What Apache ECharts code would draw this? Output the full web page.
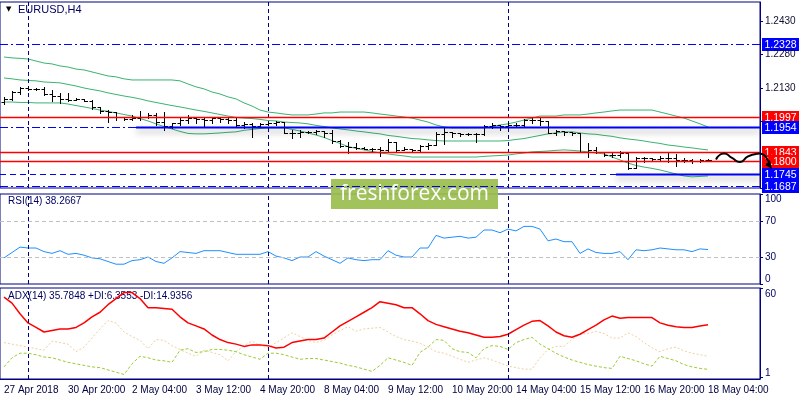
<!DOCTYPE html>
<html>
<head>
<meta charset="utf-8">
<script src="https://cdn.jsdelivr.net/npm/echarts@6/dist/echarts.min.js"></script>
<style>
html, body { margin: 0; padding: 0; background: #fff; }
#chart { width: 800px; height: 400px; }
</style>
</head>
<body>
<div id="chart"></div>
<script>
var FONT = '"Liberation Sans", Arial, sans-serif';
var NAVY = '#000080';

// time axis: one label every 8 H4 bars, starting at bar 0
var tickLabels = ['27 Apr 2018', '30 Apr 20:00', '2 May 04:00', '3 May 12:00', '4 May 20:00', '8 May 04:00',
	'9 May 12:00', '10 May 20:00', '14 May 04:00', '15 May 12:00', '16 May 20:00', '18 May 04:00'];
var labelStep = 8;
var slotCount = 95;           // 89 bars + empty space on the right
var weekSeparators = [3, 33, 63];

// price levels drawn on the chart
var levelValues = [1.2328, 1.1997, 1.1954, 1.1843, 1.1800, 1.1745, 1.1687];
var levelColors = ['#0000ff', '#ff0000', '#0000ff', '#ff0000', '#ff0000', '#0000ff', '#0000ff'];
var levelKinds = ['dashdot', 'solid', 'dashdot', 'solid', 'solid', 'dashed', 'dashdot'];
var levelSegmentStart = [null, null, 17, null, null, 77, null];

// EURUSD H4 bars
var open = [1.2066, 1.2080, 1.2111, 1.2129, 1.2125, 1.2125, 1.2102, 1.2093, 1.2080, 1.2075,
	1.2080, 1.2071, 1.2044, 1.2026, 1.2021, 1.1999, 1.1990, 1.1994, 1.1999, 1.2008,
	1.1976, 1.1959, 1.1972, 1.1985, 1.1994, 1.1990, 1.1985, 1.1994, 1.1990, 1.1985,
	1.1963, 1.1968, 1.1959, 1.1968, 1.1972, 1.1976, 1.1927, 1.1927, 1.1932, 1.1932,
	1.1936, 1.1927, 1.1891, 1.1869, 1.1864, 1.1860, 1.1855, 1.1855, 1.1851, 1.1887,
	1.1851, 1.1855, 1.1851, 1.1869, 1.1873, 1.1923, 1.1932, 1.1927, 1.1923, 1.1923,
	1.1923, 1.1959, 1.1963, 1.1959, 1.1963, 1.1963, 1.1985, 1.1985, 1.1981, 1.1927,
	1.1936, 1.1932, 1.1927, 1.1842, 1.1851, 1.1842, 1.1828, 1.1828, 1.1837, 1.1770,
	1.1815, 1.1815, 1.1810, 1.1815, 1.1815, 1.1806, 1.1806, 1.1801, 1.1806];
var close = [1.2080, 1.2111, 1.2129, 1.2125, 1.2125, 1.2102, 1.2093, 1.2080, 1.2075, 1.2080,
	1.2071, 1.2044, 1.2026, 1.2021, 1.1999, 1.1990, 1.1994, 1.1999, 1.2008, 1.1976,
	1.1959, 1.1972, 1.1985, 1.1994, 1.1990, 1.1985, 1.1994, 1.1990, 1.1985, 1.1963,
	1.1968, 1.1959, 1.1968, 1.1972, 1.1976, 1.1927, 1.1927, 1.1932, 1.1932, 1.1936,
	1.1927, 1.1891, 1.1869, 1.1864, 1.1860, 1.1855, 1.1855, 1.1851, 1.1887, 1.1851,
	1.1855, 1.1851, 1.1869, 1.1873, 1.1923, 1.1932, 1.1927, 1.1923, 1.1923, 1.1923,
	1.1959, 1.1963, 1.1959, 1.1963, 1.1963, 1.1985, 1.1985, 1.1981, 1.1927, 1.1936,
	1.1932, 1.1927, 1.1842, 1.1851, 1.1842, 1.1828, 1.1828, 1.1837, 1.1770, 1.1815,
	1.1815, 1.1810, 1.1815, 1.1815, 1.1806, 1.1806, 1.1801, 1.1806, 1.1806];
var low = [1.2057, 1.2075, 1.2102, 1.2120, 1.2120, 1.2098, 1.2071, 1.2062, 1.2071, 1.2075,
	1.2071, 1.2035, 1.2017, 1.1976, 1.1985, 1.1985, 1.1985, 1.1985, 1.1994, 1.1963,
	1.1941, 1.1950, 1.1963, 1.1972, 1.1972, 1.1959, 1.1972, 1.1976, 1.1972, 1.1959,
	1.1950, 1.1909, 1.1959, 1.1963, 1.1963, 1.1927, 1.1905, 1.1909, 1.1927, 1.1923,
	1.1909, 1.1882, 1.1864, 1.1837, 1.1855, 1.1855, 1.1846, 1.1824, 1.1842, 1.1842,
	1.1851, 1.1846, 1.1846, 1.1855, 1.1873, 1.1878, 1.1909, 1.1914, 1.1918, 1.1887,
	1.1918, 1.1950, 1.1941, 1.1959, 1.1954, 1.1954, 1.1972, 1.1963, 1.1927, 1.1918,
	1.1918, 1.1918, 1.1842, 1.1819, 1.1837, 1.1824, 1.1819, 1.1819, 1.1765, 1.1770,
	1.1797, 1.1806, 1.1801, 1.1797, 1.1779, 1.1797, 1.1792, 1.1797, 1.1801];
var high = [1.2089, 1.2116, 1.2134, 1.2134, 1.2129, 1.2134, 1.2120, 1.2107, 1.2107, 1.2084,
	1.2080, 1.2075, 1.2044, 1.2030, 1.2021, 1.1999, 1.2008, 1.2026, 1.2017, 1.2017,
	1.2021, 1.1972, 1.1994, 1.2008, 1.1999, 1.1999, 1.1999, 1.1994, 1.1994, 1.1994,
	1.1976, 1.1972, 1.1972, 1.1976, 1.1981, 1.1976, 1.1941, 1.1941, 1.1936, 1.1941,
	1.1936, 1.1941, 1.1896, 1.1887, 1.1882, 1.1864, 1.1860, 1.1864, 1.1900, 1.1887,
	1.1864, 1.1855, 1.1873, 1.1882, 1.1932, 1.1954, 1.1932, 1.1927, 1.1927, 1.1927,
	1.1963, 1.1972, 1.1963, 1.1972, 1.1972, 1.1990, 1.1994, 1.1994, 1.1981, 1.1941,
	1.1936, 1.1932, 1.1927, 1.1882, 1.1864, 1.1842, 1.1837, 1.1846, 1.1837, 1.1819,
	1.1819, 1.1815, 1.1824, 1.1837, 1.1833, 1.1815, 1.1810, 1.1810, 1.1810];

// Bollinger bands
var bbUpper = [1.2268, 1.2264, 1.2262, 1.2259, 1.2250, 1.2241, 1.2237, 1.2228, 1.2223, 1.2214,
	1.2210, 1.2201, 1.2192, 1.2183, 1.2179, 1.2170, 1.2165, 1.2165, 1.2165, 1.2165,
	1.2165, 1.2165, 1.2161, 1.2147, 1.2134, 1.2125, 1.2111, 1.2102, 1.2089, 1.2080,
	1.2062, 1.2048, 1.2030, 1.2021, 1.2017, 1.2012, 1.2008, 1.2008, 1.2008, 1.2012,
	1.2017, 1.2017, 1.2021, 1.2021, 1.2021, 1.2021, 1.2017, 1.2012, 1.2008, 1.2003,
	1.1999, 1.1994, 1.1985, 1.1976, 1.1963, 1.1954, 1.1950, 1.1950, 1.1950, 1.1950,
	1.1950, 1.1954, 1.1963, 1.1968, 1.1976, 1.1985, 1.1994, 1.2003, 1.2003, 1.2003,
	1.2008, 1.2008, 1.2008, 1.2012, 1.2017, 1.2021, 1.2026, 1.2030, 1.2030, 1.2030,
	1.2030, 1.2030, 1.2021, 1.2012, 1.2003, 1.1994, 1.1981, 1.1968, 1.1954];
var bbMiddle = [1.2174, 1.2170, 1.2165, 1.2163, 1.2161, 1.2156, 1.2154, 1.2152, 1.2145, 1.2138,
	1.2129, 1.2122, 1.2116, 1.2107, 1.2100, 1.2093, 1.2087, 1.2080, 1.2071, 1.2064,
	1.2057, 1.2050, 1.2044, 1.2037, 1.2030, 1.2024, 1.2017, 1.2010, 1.2003, 1.1997,
	1.1994, 1.1992, 1.1988, 1.1983, 1.1981, 1.1976, 1.1974, 1.1972, 1.1968, 1.1961,
	1.1956, 1.1950, 1.1945, 1.1941, 1.1936, 1.1932, 1.1927, 1.1923, 1.1916, 1.1912,
	1.1907, 1.1902, 1.1900, 1.1896, 1.1893, 1.1891, 1.1891, 1.1891, 1.1891, 1.1891,
	1.1891, 1.1891, 1.1891, 1.1893, 1.1898, 1.1902, 1.1909, 1.1916, 1.1923, 1.1927,
	1.1932, 1.1932, 1.1927, 1.1923, 1.1921, 1.1916, 1.1912, 1.1905, 1.1900, 1.1896,
	1.1891, 1.1885, 1.1880, 1.1873, 1.1869, 1.1864, 1.1860, 1.1855, 1.1851];
var bbLower = [1.2066, 1.2066, 1.2064, 1.2064, 1.2062, 1.2062, 1.2062, 1.2062, 1.2057, 1.2050,
	1.2044, 1.2037, 1.2030, 1.2024, 1.2017, 1.2010, 1.2003, 1.1992, 1.1981, 1.1968,
	1.1956, 1.1945, 1.1934, 1.1925, 1.1923, 1.1923, 1.1925, 1.1927, 1.1930, 1.1932,
	1.1939, 1.1943, 1.1947, 1.1950, 1.1950, 1.1950, 1.1943, 1.1936, 1.1927, 1.1918,
	1.1907, 1.1893, 1.1880, 1.1866, 1.1858, 1.1851, 1.1844, 1.1837, 1.1833, 1.1828,
	1.1824, 1.1819, 1.1819, 1.1819, 1.1819, 1.1819, 1.1819, 1.1819, 1.1819, 1.1819,
	1.1822, 1.1824, 1.1826, 1.1828, 1.1833, 1.1837, 1.1842, 1.1844, 1.1846, 1.1849,
	1.1851, 1.1849, 1.1846, 1.1842, 1.1837, 1.1833, 1.1819, 1.1806, 1.1792, 1.1781,
	1.1774, 1.1768, 1.1761, 1.1752, 1.1743, 1.1734, 1.1730, 1.1732, 1.1734];

// hand drawn forecast after the last bar (starts at bar 89)
var forecast = [1.1808, 1.1835, 1.1815, 1.1797, 1.1822, 1.1833];

// RSI(14)
var rsi = [29, 35, 41, 40, 40, 36, 34, 37, 33, 34,
	32, 29, 28, 25, 22, 22, 26, 27, 30, 25,
	23, 29, 36, 35, 34, 37, 37, 37, 35, 33,
	33, 33, 33, 36, 31, 29, 26, 30, 30, 36,
	31, 27, 23, 29, 27, 26, 27, 27, 37, 32,
	30, 30, 40, 40, 54, 51, 52, 53, 51, 52,
	60, 60, 57, 61, 59, 64, 64, 61, 48, 50,
	47, 47, 34, 39, 35, 34, 34, 36, 27, 38,
	37, 38, 40, 39, 38, 38, 36, 39, 38.2667];

// ADX(14), +DI, -DI
var adx = [54, 50, 43, 37, 34, 31, 32, 33, 33, 34,
	37, 41, 44, 49, 53, 57, 57, 53, 47, 47,
	46.5, 46, 41, 37, 35, 33, 29, 26, 24, 23,
	21.5, 22.5, 22.5, 22, 20.5, 21, 24, 25, 26, 26,
	27, 31, 35, 38, 41, 44, 47, 51, 50, 49,
	47, 47, 43, 38.5, 36, 34.5, 33, 31.5, 30.5, 29,
	27.5, 27.5, 28, 29.5, 32.5, 35.5, 38, 38.5, 35, 31,
	28.5, 27.5, 29.5, 32.5, 35.5, 39, 41.5, 40, 40.5, 40.5,
	40.5, 40.5, 37, 35.5, 34.5, 34, 34, 35, 35.7848];
var plusDI = [8, 14, 17, 17, 16, 14.5, 14, 12.5, 11, 10,
	9, 8, 7.5, 6, 4.5, 3, 10, 15, 14, 12.5,
	12, 11, 19, 20, 17.5, 18, 19.5, 19.5, 19, 18,
	16, 14.5, 13, 17, 17, 16, 14.5, 13, 13.5, 13.5,
	12.5, 11.5, 10.5, 9, 8, 6.5, 5, 9, 14, 12.5,
	11, 9, 17.5, 21, 26, 25.5, 20, 18, 17.5, 14,
	20, 22, 21.5, 19.5, 24, 26, 27.5, 23, 20, 17,
	14.5, 12.5, 11, 9.5, 8.5, 7.5, 7, 15, 13.5, 12,
	10, 8.5, 15, 13.5, 12, 9.5, 8, 7, 6.3553];
var minusDI = [24, 23, 22, 21, 20, 19, 25, 24, 23, 18,
	21, 27, 33, 38.5, 37, 31, 28, 25.5, 20, 26,
	25.5, 22, 19.5, 17, 15, 19, 17.5, 16, 12, 18,
	22, 25, 22, 20.5, 24, 27, 30.5, 28, 25.5, 24,
	25.5, 29, 32, 34.5, 31.5, 33, 33.5, 34, 31, 28,
	26, 25, 23.5, 21, 18, 17, 15, 13, 11, 12.5,
	14, 12.5, 10.5, 8.5, 7.5, 6.5, 6.5, 14, 19.5, 21.5,
	21.5, 26, 29.5, 30, 31.5, 30, 27, 27, 30.5, 28,
	24, 20.5, 18, 20, 21, 18.5, 17, 16, 14.9356];

var categories = [];
for (var i = 0; i < slotCount; i++) categories.push(String(i));

var barData = [];
for (var i = 0; i < open.length; i++) barData.push([i, open[i], close[i], low[i], high[i]]);

var forecastData = [];
for (var i = 0; i < forecast.length; i++) forecastData.push([open.length + i, forecast[i]]);

var levelData = [];
for (var i = 0; i < levelValues.length; i++) levelData.push([0, levelValues[i], i]);

function indexed(arr) {
	var out = [];
	for (var i = 0; i < arr.length; i++) out.push([i, arr[i]]);
	return out;
}

function renderBar(params, api) {
	var idx = api.value(0);
	var pO = api.coord([idx, api.value(1)]);
	var pC = api.coord([idx, api.value(2)]);
	var pL = api.coord([idx, api.value(3)]);
	var pH = api.coord([idx, api.value(4)]);
	var x = Math.round(pO[0]) + 0.5;
	var yO = Math.round(pO[1]) + 0.5;
	var yC = Math.round(pC[1]) + 0.5;
	var st = { stroke: '#000', lineWidth: 1 };
	return {
		type: 'group',
		children: [
			{ type: 'line', shape: { x1: x, y1: Math.round(pH[1]), x2: x, y2: Math.round(pL[1]) + 1 }, style: st },
			{ type: 'line', shape: { x1: x - 3, y1: yO, x2: x, y2: yO }, style: st },
			{ type: 'line', shape: { x1: x, y1: yC, x2: x + 3.5, y2: yC }, style: st }
		]
	};
}

var DASH = { dashdot: [8, 3, 2, 3], dashed: [6, 4], solid: null };

// horizontal price levels across the whole price panel
function renderLevel(params, api) {
	var k = api.value(2);
	var v = api.value(1);
	var cs = params.coordSys;
	var y = Math.round(api.coord([0, v])[1]) + 0.5;
	var children = [];
	if (levelSegmentStart[k] !== null) {
		var x0 = api.coord([levelSegmentStart[k], v])[0] - 4;
		children.push({
			type: 'line', z2: 1,
			shape: { x1: x0, y1: y, x2: cs.x + cs.width, y2: y },
			style: { stroke: '#0000ee', lineWidth: 2, shadowColor: 'rgba(0,0,0,0.35)', shadowBlur: 6, shadowOffsetY: 4 }
		});
	}
	children.push({
		type: 'line', z2: 2,
		shape: { x1: cs.x, y1: y, x2: cs.x + cs.width, y2: y },
		style: {
			stroke: levelColors[k], lineWidth: levelKinds[k] === 'solid' ? 1.4 : 1,
			lineDash: DASH[levelKinds[k]], shadowBlur: 0, shadowColor: 'rgba(0,0,0,0)'
		}
	});
	return { type: 'group', children: children };
}

// an empty helper series that only carries markLines
function markSeries(axisIdx, lineStyle, items, z) {
	return {
		type: 'line', xAxisIndex: axisIdx, yAxisIndex: axisIdx, data: [], z: z || 3,
		markLine: {
			silent: true, symbol: ['none', 'none'], animation: false,
			label: { show: false }, lineStyle: lineStyle, data: items
		}
	};
}

var sepItems = [];
for (var i = 0; i < weekSeparators.length; i++) sepItems.push({ xAxis: weekSeparators[i] });
var sepStyle = { color: NAVY, type: [4, 3], width: 1 };

var chart = echarts.init(document.getElementById('chart'));

var option = {
	animation: false,
	backgroundColor: '#fff',
	textStyle: { fontFamily: FONT },
	grid: [
		{ left: 0, right: 40, top: 2, height: 186, show: true, borderColor: NAVY, borderWidth: 1 },
		{ left: 0, right: 40, top: 194, height: 90, show: true, borderColor: NAVY, borderWidth: 1 },
		{ left: 0, right: 40, top: 288, height: 91, show: true, borderColor: NAVY, borderWidth: 1 }
	],
	xAxis: [
		{ type: 'category', gridIndex: 0, data: categories, show: false },
		{ type: 'category', gridIndex: 1, data: categories, show: false },
		{
			type: 'category', gridIndex: 2, data: categories,
			axisLine: { lineStyle: { color: NAVY } },
			axisTick: {
				alignWithLabel: true, length: 4, lineStyle: { color: NAVY },
				interval: function (idx) { return idx % labelStep === 0; }
			},
			axisLabel: {
				interval: function (idx) { return idx % labelStep === 0 && idx / labelStep < tickLabels.length; },
				formatter: function (v, idx) { return tickLabels[idx / labelStep] || ''; },
				align: 'left', color: '#000040', fontSize: 10, margin: 6, fontFamily: FONT
			}
		}
	],
	yAxis: [
		{
			type: 'value', gridIndex: 0, position: 'right',
			min: 1.1680, max: 1.2515, interval: 0.015,
			splitLine: { show: false },
			axisLine: { show: true, lineStyle: { color: NAVY } },
			axisTick: { show: true, length: 3, lineStyle: { color: NAVY } },
			axisLabel: {
				showMaxLabel: false, color: '#101030', fontSize: 10, margin: 5, fontFamily: FONT,
				formatter: function (v) { return (v > 1.21 && v < 1.25) ? v.toFixed(4) : ''; }
			}
		},
		{
			type: 'value', gridIndex: 1, position: 'right', min: 0, max: 100,
			splitLine: { show: false },
			axisLine: { show: true, lineStyle: { color: NAVY } },
			axisTick: { show: true, length: 3, lineStyle: { color: NAVY }, customValues: [0, 30, 70, 100] },
			axisLabel: {
				customValues: [0, 30, 70, 100], color: '#000060', fontSize: 10, margin: 5, fontFamily: FONT,
				formatter: function (v) {
					if (v === 100) return '{t|100}';
					if (v === 0) return '{b|0}';
					return String(v);
				},
				rich: {
					t: { padding: [10, 0, 0, 0], fontSize: 10, color: '#000060' },
					b: { padding: [0, 0, 10, 0], fontSize: 10, color: '#000060' }
				}
			}
		},
		{
			type: 'value', gridIndex: 2, position: 'right', min: 0, max: 60,
			splitLine: { show: false },
			axisLine: { show: true, lineStyle: { color: NAVY } },
			axisTick: { show: true, length: 3, lineStyle: { color: NAVY }, customValues: [1, 60] },
			axisLabel: {
				customValues: [1, 60], color: '#000060', fontSize: 10, margin: 5, fontFamily: FONT,
				formatter: function (v) {
					if (v === 60) return '{t|60}';
					return '{b|1}';
				},
				rich: {
					t: { padding: [12, 0, 0, 0], fontSize: 10, color: '#000060' },
					b: { padding: [0, 0, 8, 0], fontSize: 10, color: '#000060' }
				}
			}
		}
	],
	series: [
		markSeries(0, sepStyle, sepItems, 1),
		markSeries(1, sepStyle, sepItems, 1),
		markSeries(2, sepStyle, sepItems, 1),
		markSeries(1, { color: '#c0c0c0', type: [4, 3], width: 1 }, [{ yAxis: 70 }, { yAxis: 30 }], 1),
		{
			name: 'BB upper', type: 'line', xAxisIndex: 0, yAxisIndex: 0, data: indexed(bbUpper),
			showSymbol: false, lineStyle: { color: '#3cb371', width: 1 }, z: 2
		},
		{
			name: 'BB middle', type: 'line', xAxisIndex: 0, yAxisIndex: 0, data: indexed(bbMiddle),
			showSymbol: false, lineStyle: { color: '#3cb371', width: 1 }, z: 2
		},
		{
			name: 'BB lower', type: 'line', xAxisIndex: 0, yAxisIndex: 0, data: indexed(bbLower),
			showSymbol: false, lineStyle: { color: '#3cb371', width: 1 }, z: 2
		},
		{
			name: 'EURUSD', type: 'custom', xAxisIndex: 0, yAxisIndex: 0, data: barData,
			renderItem: renderBar, encode: { x: 0, y: [1, 2, 3, 4] }, z: 5
		},
		{
			name: 'levels', type: 'custom', xAxisIndex: 0, yAxisIndex: 0, data: levelData,
			renderItem: renderLevel, encode: { x: 0, y: 1 }, z: 8, silent: true
		},
		{
			name: 'forecast', type: 'line', xAxisIndex: 0, yAxisIndex: 0, data: forecastData,
			smooth: 0.6, showSymbol: false, clip: false,
			lineStyle: { color: '#000', width: 2 }, z: 9
		},
		{
			name: 'RSI', type: 'line', xAxisIndex: 1, yAxisIndex: 1, data: indexed(rsi),
			showSymbol: false, lineStyle: { color: '#1e90ff', width: 1 }
		},
		{
			name: '-DI', type: 'line', xAxisIndex: 2, yAxisIndex: 2, data: indexed(minusDI),
			showSymbol: false, lineStyle: { color: '#f0d0a0', width: 1, type: [2, 2] }
		},
		{
			name: '+DI', type: 'line', xAxisIndex: 2, yAxisIndex: 2, data: indexed(plusDI),
			showSymbol: false, lineStyle: { color: '#9acd32', width: 1, type: [3, 2] }
		},
		{
			name: 'ADX', type: 'line', xAxisIndex: 2, yAxisIndex: 2, data: indexed(adx),
			showSymbol: false, lineStyle: { color: '#ff0000', width: 1.5 }
		}
	]
};
chart.setOption(option);

// price tags on the right axis, panel captions, watermark and the forecast arrow
var graphics = [];
for (var i = 0; i < levelValues.length; i++) {
	var py = chart.convertToPixel({ yAxisIndex: 0 }, levelValues[i]);
	graphics.push({
		type: 'group', left: 762, top: Math.round(py) - 6, z: 50,
		children: [
			{ type: 'rect', shape: { x: 0, y: 0, width: 37, height: 13 }, style: { fill: levelColors[i] } },
			{
				type: 'text', x: 18.5, y: 7,
				style: { text: levelValues[i].toFixed(4), fill: '#fff', fontSize: 10.5, fontFamily: FONT, align: 'center', verticalAlign: 'middle' }
			}
		]
	});
}

var endPt = chart.convertToPixel({ gridIndex: 0 }, [slotCount - 1, forecast[forecast.length - 1]]);
var tipX = endPt[0] + 15, tipY = endPt[1] + 14;

graphics.push(
	{ type: 'text', left: 6, top: 6, style: { text: '\u25BC', fill: '#000', fontSize: 7, fontFamily: 'DejaVu Sans' } },
	{ type: 'text', left: 18, top: 4, style: { text: 'EURUSD,H4', fill: '#000060', fontSize: 11, fontFamily: FONT } },
	{ type: 'text', left: 8, top: 196, style: { text: 'RSI(14) 38.2667', fill: '#000060', fontSize: 10, fontFamily: FONT } },
	{ type: 'text', left: 8, top: 291, style: { text: 'ADX(14) 35.7848 +DI:6.3553 -DI:14.9356', fill: '#000060', fontSize: 10, fontFamily: FONT } },
	{
		type: 'polyline', z: 60,
		shape: { points: [endPt, [endPt[0] + 8, endPt[1] + 1], [tipX - 2, tipY - 4]], smooth: 0.5 },
		style: { stroke: '#000', lineWidth: 2, fill: null }
	},
	{
		type: 'polygon', z: 60,
		shape: { points: [[tipX + 1, tipY + 1], [tipX - 6, tipY - 3], [tipX - 1, tipY - 8]] },
		style: { fill: '#000' }
	},
	{
		type: 'group', left: 331, top: 179, z: 100,
		children: [
			{ type: 'rect', shape: { x: 0, y: 0, width: 167, height: 30 }, style: { fill: '#9bbd50', opacity: 0.93 } },
			{
				type: 'text', x: 83.5, y: 15,
				style: { text: 'freshforex.com', fill: '#fff', fontSize: 21, fontFamily: '"Open Sans", sans-serif', align: 'center', verticalAlign: 'middle' }
			}
		]
	}
);

chart.setOption({ graphic: graphics });
</script>
</body>
</html>
